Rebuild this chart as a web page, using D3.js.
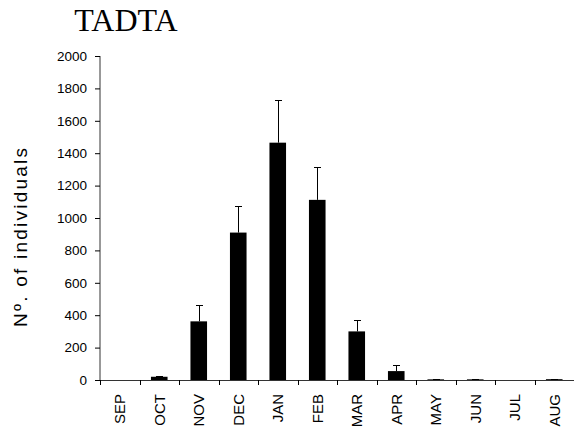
<!DOCTYPE html>
<html>
<head>
<meta charset="utf-8">
<script src="https://cdn.jsdelivr.net/npm/d3@7/dist/d3.min.js"></script>
<style>
  html, body { margin: 0; padding: 0; background: #fff; }
  svg { display: block; }
</style>
</head>
<body>
<svg id="chart" width="574" height="433"></svg>
<script>
// Monthly counts (mean) with upper standard-error bars
const months = ["SEP","OCT","NOV","DEC","JAN","FEB","MAR","APR","MAY","JUN","JUL","AUG"];
const means  = [0, 20, 362, 910, 1465, 1112, 300, 55, 4, 4, 0, 5];
const errors = [0, 6, 100, 165, 262, 200, 68, 38, 3, 3, 0, 3];
const yTicks = [0, 200, 400, 600, 800, 1000, 1200, 1400, 1600, 1800, 2000];

(function draw() {
  const svg = d3.select("#chart");
  const plotLeft = 100, plotRight = 574, plotTop = 56, plotBottom = 380;
  const sans = "'Liberation Sans', Arial, sans-serif";

  const x = d3.scaleBand()
    .domain(months)
    .range([plotLeft, plotRight])
    .paddingInner(0.58)
    .paddingOuter(0.29);

  const y = d3.scaleLinear().domain([0, 2000]).range([plotBottom, plotTop]);

  // Title
  svg.append("text")
    .attr("x", 126).attr("y", 31)
    .attr("text-anchor", "middle")
    .attr("font-family", "'Liberation Serif', 'Times New Roman', serif")
    .attr("font-size", 32)
    .attr("fill", "#000")
    .text("TADTA");

  // Y axis
  const yAxis = svg.append("g")
    .attr("transform", `translate(${plotLeft},0)`)
    .call(d3.axisLeft(y).tickValues(yTicks).tickSize(5).tickPadding(8).tickFormat(d3.format("d")));
  yAxis.select(".domain").attr("stroke", "#333").attr("d", `M0,${plotTop}V${plotBottom}`);
  yAxis.selectAll(".tick line").attr("stroke", "#000");
  yAxis.selectAll("text")
    .attr("font-family", sans)
    .attr("font-size", 13.5)
    .attr("fill", "#000");

  // Y axis title
  svg.append("text")
    .attr("transform", "translate(27,237.5) rotate(-90)")
    .attr("text-anchor", "middle")
    .attr("font-family", sans)
    .attr("font-size", 19)
    .attr("textLength", 179)
    .attr("lengthAdjust", "spacing")
    .attr("fill", "#000")
    .text("Nº. of individuals");

  // Bars
  svg.append("g").selectAll("rect")
    .data(months)
    .join("rect")
    .attr("x", (d) => x(d))
    .attr("width", x.bandwidth())
    .attr("y", (d, i) => y(means[i]))
    .attr("height", (d, i) => y(0) - y(means[i]))
    .attr("fill", "#000");

  // Error bars (upper only)
  const eb = svg.append("g").attr("stroke", "#000").attr("stroke-width", 1);
  months.forEach((m, i) => {
    if (means[i] <= 0 && errors[i] <= 0) return;
    const cx = Math.round(x(m) + x.bandwidth() / 2) + 0.5;
    const y0 = y(means[i]);
    const y1 = Math.round(y(means[i] + errors[i])) + 0.5;
    eb.append("line").attr("x1", cx).attr("x2", cx).attr("y1", y0).attr("y2", y1);
    eb.append("line").attr("x1", cx - 3.5).attr("x2", cx + 3.5).attr("y1", y1).attr("y2", y1);
  });

  // X axis line
  svg.append("path")
    .attr("d", `M${plotLeft},${plotBottom + 0.5}H${plotRight}`)
    .attr("stroke", "#333")
    .attr("fill", "none");

  // Category boundary ticks
  const gap = (x.step() - x.bandwidth()) / 2;
  svg.append("g").selectAll("line")
    .data(months)
    .join("line")
    .attr("x1", (d) => Math.round(x(d) - gap) + 0.5)
    .attr("x2", (d) => Math.round(x(d) - gap) + 0.5)
    .attr("y1", plotBottom).attr("y2", plotBottom + 5)
    .attr("stroke", "#000");

  // Month labels, rotated to read bottom-to-top
  svg.append("g").selectAll("text")
    .data(months)
    .join("text")
    .attr("transform", (d) => `translate(${x(d) + x.bandwidth() / 2},${plotBottom + 14}) rotate(-90)`)
    .attr("text-anchor", "end")
    .attr("dy", "0.35em")
    .attr("font-family", sans)
    .attr("font-size", 15)
    .attr("fill", "#000")
    .text((d) => d);
})();
</script>
</body>
</html>
